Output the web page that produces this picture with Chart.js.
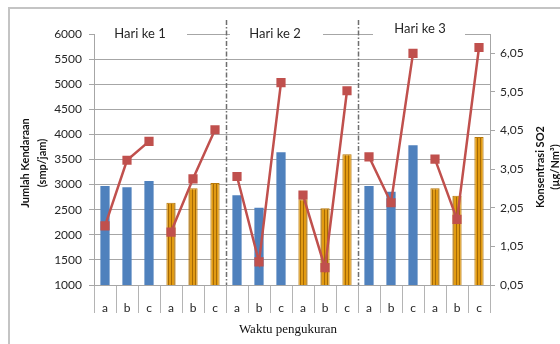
<!DOCTYPE html>
<html>
<head>
<meta charset="utf-8">
<script src="https://cdn.jsdelivr.net/npm/chart.js@4.4.1/dist/chart.umd.min.js"></script>
<style>
  html, body { margin: 0; padding: 0; background: #fff; }
  #wrap { width: 560px; height: 344px; position: relative; }
</style>
</head>
<body>
<div id="wrap"><canvas id="c" width="560" height="344"></canvas></div>
<script>
// Measurement slots: three days, each with two sites of three periods (a, b, c)
const categories = ['a','b','c','a','b','c','a','b','c','a','b','c','a','b','c','a','b','c'];
const dayLabels = ['Hari ke 1', 'Hari ke 2', 'Hari ke 3'];

// Vehicle counts (smp/jam)
const blueCounts   = [2972, 2946, 3072, null, null, null, 2787, 2540, 3643, null, null, null, 2972, 2859, 3783, null, null, null];
const orangeCounts = [null, null, null, 2640, 2926, 3032, null, null, null, 2707, 2528, 3603, null, null, null, 2926, 2780, 3948];

// SO2 concentration (µg/Nm³)
const so2Values = [1.58, 3.28, 3.77, 1.42, 2.80, 4.07, 2.86, 0.65, 5.29, 2.38, 0.50, 5.08, 3.37, 2.18, 6.05, 3.31, 1.75, 6.20];

// Axis ticks
const countTicks = [1000, 1500, 2000, 2500, 3000, 3500, 4000, 4500, 5000, 5500, 6000];
const so2Ticks = [0.05, 1.05, 2.05, 3.05, 4.05, 5.05, 6.05];

const BLUE = '#4F81BD';
const RED = '#C0504D';
const GRID = '#A6A6A6';
const TEXT = '#262626';

// vertical striped fill for the second site
function stripePattern() {
  const p = document.createElement('canvas');
  p.width = 3; p.height = 4;
  const g = p.getContext('2d');
  g.fillStyle = '#E29B12';
  g.fillRect(0, 0, 3, 4);
  g.fillStyle = '#A66A05';
  g.fillRect(0, 0, 1, 4);
  return g.createPattern(p, 'repeat');
}

const decorations = {
  id: 'decorations',
  beforeDraw(chart) {
    const ctx = chart.ctx;
    ctx.save();
    ctx.fillStyle = '#fff';
    ctx.fillRect(0, 0, chart.width, chart.height);
    // outer frame
    ctx.strokeStyle = '#C4C4C4';
    ctx.lineWidth = 2;
    ctx.beginPath();
    ctx.moveTo(9, 344);
    ctx.lineTo(9, 8);
    ctx.lineTo(560, 8);
    ctx.stroke();
    ctx.restore();
  },
  afterDraw(chart) {
    const ctx = chart.ctx;
    const x = chart.scales.x;
    const area = chart.chartArea;
    ctx.save();

    // day boundaries (dash-dot)
    ctx.strokeStyle = '#6E6E6E';
    ctx.lineWidth = 1.5;
    ctx.setLineDash([5, 2, 1.5, 2]);
    [6, 12].forEach(i => {
      const px = Math.round((x.getPixelForValue(i - 1) + x.getPixelForValue(i)) / 2) + 0.5;
      ctx.beginPath();
      ctx.moveTo(px, 20);
      ctx.lineTo(px, area.bottom);
      ctx.stroke();
    });
    ctx.setLineDash([]);

    // day captions on white boxes over the top gridline
    const boxes = [[95, 187, 140, 34], [230, 323, 275, 34], [373, 465, 420, 29]];
    ctx.font = '13px Lato';
    ctx.textAlign = 'center';
    ctx.textBaseline = 'middle';
    boxes.forEach((b, i) => {
      ctx.fillStyle = '#fff';
      ctx.fillRect(b[0], 23, b[1] - b[0], 20);
      ctx.fillStyle = TEXT;
      ctx.fillText(dayLabels[i], b[2], b[3]);
    });

    // axis titles
    ctx.fillStyle = '#111';
    ctx.font = 'bold 11px Lato';
    ctx.save();
    ctx.translate(25, 163);
    ctx.rotate(-Math.PI / 2);
    ctx.fillText('Jumlah Kendaraan', 0, 0);
    ctx.fillText('(smp/jam)', 0, 17);
    ctx.restore();

    ctx.save();
    ctx.translate(540, 167);
    ctx.rotate(-Math.PI / 2);
    ctx.fillText('Konsentrasi SO2', 0, 0);
    ctx.fillText('(µg/Nm³)', 0, 15);
    ctx.restore();

    ctx.font = '13px "Liberation Serif"';
    ctx.fillStyle = '#111';
    ctx.fillText('Waktu pengukuran', 288, 330);
    ctx.restore();
  }
};

const stripes = stripePattern();

new Chart(document.getElementById('c'), {
  data: {
    labels: categories,
    datasets: [
      {
        type: 'line',
        label: 'SO2',
        data: so2Values,
        yAxisID: 'y1',
        order: 0,
        borderColor: RED,
        backgroundColor: RED,
        borderWidth: 2.5,
        pointStyle: 'rect',
        pointRadius: 6.5,
        pointBorderWidth: 0,
        pointBackgroundColor: RED,
        tension: 0,
        segment: {
          borderColor: c => (c.p1DataIndex % 3 === 0 ? 'rgba(0,0,0,0)' : RED)
        }
      },
      {
        type: 'bar',
        label: 'Lokasi 1',
        data: blueCounts,
        yAxisID: 'y',
        order: 1,
        grouped: false,
        backgroundColor: BLUE,
        borderWidth: 0,
        barPercentage: 0.42,
        categoryPercentage: 1
      },
      {
        type: 'bar',
        label: 'Lokasi 2',
        data: orangeCounts,
        yAxisID: 'y',
        order: 1,
        grouped: false,
        backgroundColor: stripes,
        borderColor: '#B87808',
        borderWidth: 1,
        barPercentage: 0.42,
        categoryPercentage: 1
      }
    ]
  },
  options: {
    responsive: false,
    animation: false,
    devicePixelRatio: 1,
    layout: { padding: { top: 34, left: 0, right: 0, bottom: 0 } },
    plugins: { legend: { display: false }, tooltip: { enabled: false } },
    scales: {
      x: {
        type: 'category',
        offset: true,
        grid: {
          offset: true,
          drawOnChartArea: false,
          drawTicks: true,
          tickLength: 28,
          color: '#B4B4B4',
          lineWidth: 1
        },
        border: { display: true, color: GRID, width: 1 },
        ticks: {
          padding: -12,
          color: TEXT,
          font: { family: 'Lato', size: 12 },
          maxRotation: 0,
          autoSkip: false
        },
        afterFit(s) { s.height = 59; }
      },
      y: {
        position: 'left',
        min: 1000,
        max: 6000,
        afterBuildTicks(s) { s.ticks = countTicks.map(v => ({ value: v })); },
        grid: { color: GRID, lineWidth: 1, tickLength: 5 },
        border: { display: true, color: GRID, width: 1 },
        ticks: {
          padding: 7,
          color: TEXT,
          font: { family: 'Lato', size: 12 },
          callback: v => String(v)
        },
        afterFit(s) { s.width = 94; }
      },
      y1: {
        position: 'right',
        min: 0.05,
        max: 6.55,
        afterBuildTicks(s) { s.ticks = so2Ticks.map(v => ({ value: v })); },
        grid: { drawOnChartArea: false, color: GRID, lineWidth: 1, tickLength: 5 },
        border: { display: true, color: GRID, width: 1 },
        ticks: {
          padding: 5,
          color: TEXT,
          font: { family: 'Lato', size: 12 },
          callback: v => v.toFixed(2).replace('.', ',')
        },
        afterFit(s) { s.width = 70; }
      }
    }
  },
  plugins: [decorations]
});
</script>
</body>
</html>
